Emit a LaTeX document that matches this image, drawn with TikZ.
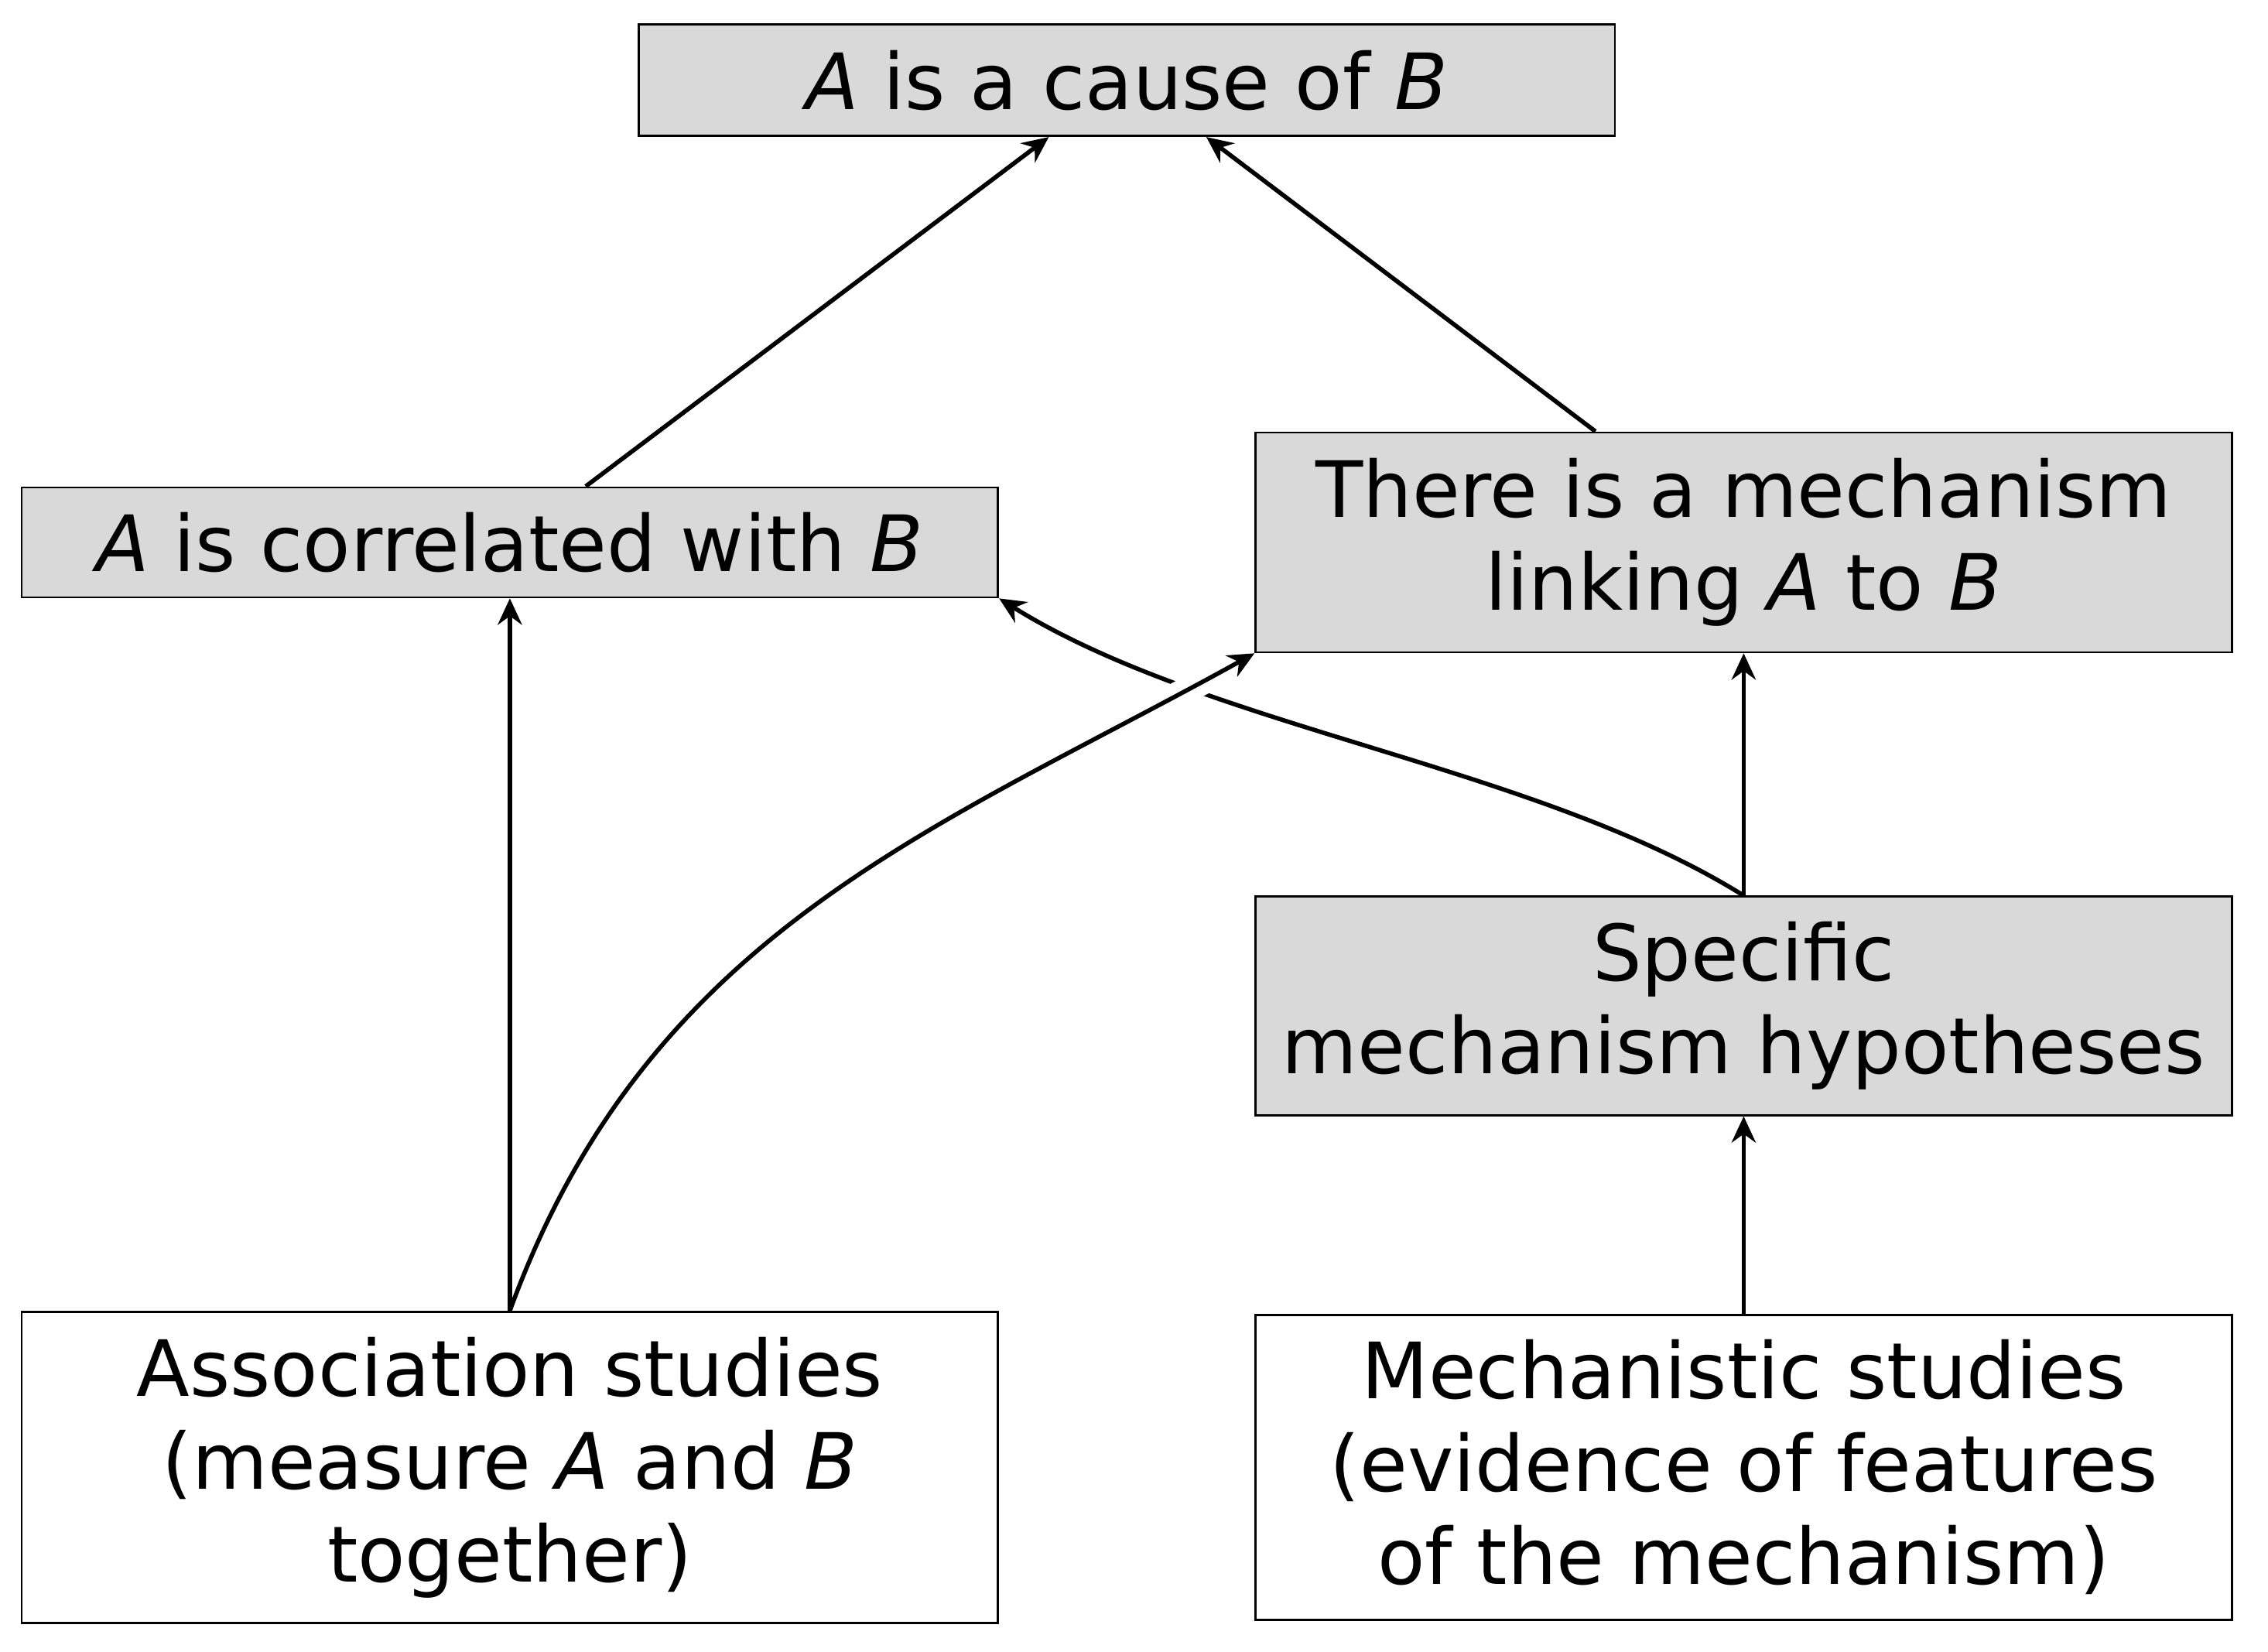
\documentclass[tikz,border=0pt]{standalone}
\usepackage{fontspec}
\setmainfont{DejaVu Sans}
\usetikzlibrary{arrows.meta,calc}
\definecolor{boxgray}{HTML}{D9D9D9}
\begin{document}
\begin{tikzpicture}[x=0.4673pt,y=0.4673pt,
  box/.style={draw=black, line width=0.7pt, inner sep=0pt, align=center,
    minimum width=315.4pt, font=\fontsize{25.1}{30}\selectfont},
  grey/.style={box, fill=boxgray},
  white box/.style={box, fill=white},
  arr/.style={line width=1.4pt, -{Stealth[length=8.5pt,width=7.8pt,inset=2.8pt]}}]
\useasboundingbox (0,0) rectangle (1568,1142);
\node[grey, minimum height=36pt] (top) at (779,1086.5) {\textit{A} is a cause of \textit{B}};
\node[grey, minimum height=35.5pt] (corr) at (352.5,767) {\textit{A} is correlated with \textit{B}};
\node[grey, minimum height=71pt] (mech) at (1205.5,767) {There is a mechanism\\linking \textit{A} to \textit{B}};
\node[grey, minimum height=70.6pt] (spec) at (1205.5,446.5) {Specific\\mechanism hypotheses};
\node[white box, minimum height=100.5pt] (assoc) at (352.5,127.5) {Association studies\\(measure \textit{A} and \textit{B}\\together)};
\node[white box, minimum height=98.6pt] (mechst) at (1205.5,127.5) {Mechanistic studies\\(evidence of features\\of the mechanism)};
% curve from specific hypotheses to correlation
\draw[arr] (spec.north) .. controls +(148:170) and +(-32:170) .. (corr.south east);
% white gap where the association curve crosses
\begin{scope}
\clip (822,665) circle (35);
\draw[white, line width=8.5pt] (assoc.north) .. controls +(70:280) and +(209:250) .. (mech.south west);
\end{scope}
\draw[arr] (assoc.north) .. controls +(70:280) and +(209:250) .. (mech.south west);
\draw[arr] (assoc.north) -- (corr.south);
\draw[arr] (mechst.north) -- (spec.south);
\draw[arr] (spec.north) -- (mech.south);
\draw[arr] ([xshift=24.5pt]corr.north) -- ([xshift=-25.2pt]top.south);
\draw[arr] ([xshift=-47.9pt]mech.north) -- ([xshift=25.7pt]top.south);
\end{tikzpicture}
\end{document}
